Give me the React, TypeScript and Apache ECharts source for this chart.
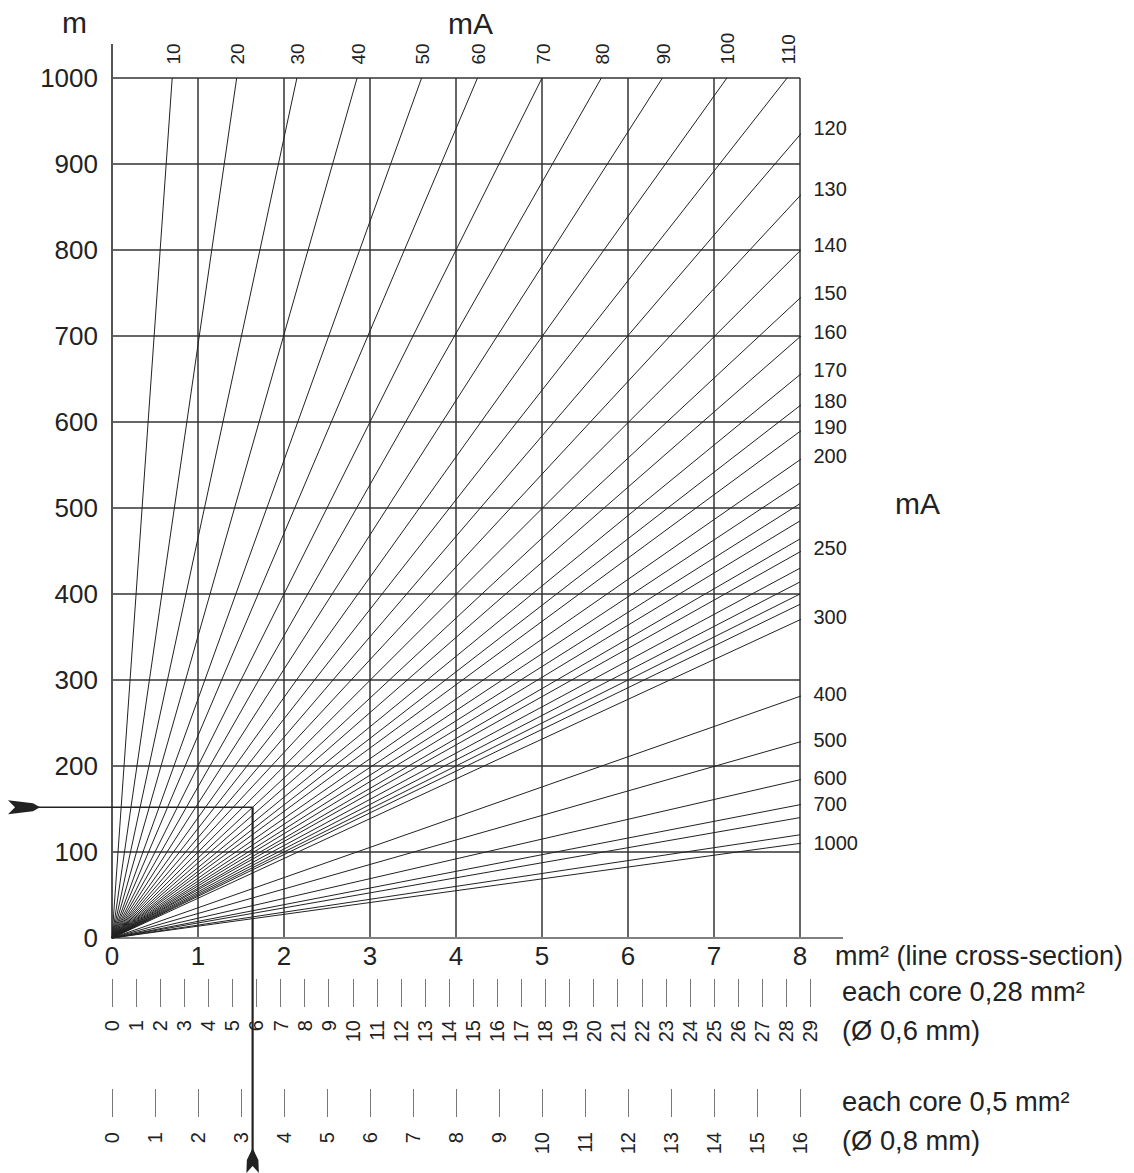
import React, { useEffect, useRef } from "react";
import * as echarts from "echarts";

// ---- data ----
// lines that end on the top edge (1000 m): current (mA) and cross-section (mm²) at 1000 m
const topCurrents = [10, 20, 30, 40, 50, 60, 70, 80, 90, 100, 110];
const topEndSection = [0.7, 1.45, 2.15, 2.85, 3.6, 4.25, 5.0, 5.69, 6.4, 7.15, 7.85];
// lines that end on the right edge (8 mm²): current (mA) and length (m) at 8 mm²
const sideCurrents = [120, 130, 140, 150, 160, 170, 180, 190, 200, 210, 220, 230, 240, 250, 260, 270, 280, 290, 300, 400, 500, 600, 700, 800, 900, 1000];
const sideEndLength = [934, 863, 799, 744, 699, 655, 619, 589, 556, 529, 505, 485, 464, 449, 430, 414, 400, 388, 370, 281, 228, 184, 155, 140, 120, 110];
const labeledSide = [120, 130, 140, 150, 160, 170, 180, 190, 200, 250, 300, 400, 500, 600, 700, 1000];
// axis ticks
const sectionTicks = [0, 1, 2, 3, 4, 5, 6, 7, 8];
const lengthTicks = [0, 100, 200, 300, 400, 500, 600, 700, 800, 900, 1000];
const cores028Ticks = Array.from({ length: 30 }, (_, i) => i); // 0..29
const cores05Ticks = Array.from({ length: 17 }, (_, i) => i); // 0..16
const core028Area = 0.28;
const core05Area = 0.5;
// worked example (arrows)
const exampleLength = 152;
const exampleSection = 1.635;

// ---- layout ----
const W = 1134;
const H = 1173;
const GL = 112;
const GT = 78;
const GW = 688;
const GH = 860;
const FONT = '"Liberation Sans", Arial, Helvetica, sans-serif';
const INK = "#222";

export default function App() {
  const ref = useRef<HTMLDivElement>(null);

  useEffect(() => {
    if (!ref.current) return;
    const chart = echarts.init(ref.current, null, { renderer: "svg" });
    const xMax = sectionTicks[sectionTicks.length - 1];
    const yMax = lengthTicks[lengthTicks.length - 1];
    const pxPerSection = GW / xMax;
    const c028Max = cores028Ticks[cores028Ticks.length - 1];
    const c05Max = cores05Ticks[cores05Ticks.length - 1];

    const lineStyle = { color: "#222", width: 1 };
    const series: any[] = [];

    topCurrents.forEach((c, i) => {
      series.push({
        type: "line",
        name: String(c),
        data: [
          [0, 0],
          [topEndSection[i], yMax],
        ],
        symbol: "none",
        silent: true,
        clip: false,
        lineStyle,
        z: 3,
      });
    });

    const sideLabelPts: any[] = [];
    const ext = (xMax + 6 / pxPerSection) / xMax; // small leader past the edge
    sideCurrents.forEach((c, i) => {
      const L = sideEndLength[i];
      const data: number[][] = [
        [0, 0],
        [xMax, L],
      ];
      if (labeledSide.includes(c)) {
        data.push([xMax * ext, L * ext]);
        sideLabelPts.push([xMax * ext, L * ext, c]);
      }
      series.push({
        type: "line",
        name: String(c),
        data,
        symbol: "none",
        silent: true,
        clip: false,
        lineStyle,
        z: 3,
      });
    });

    const hidden = { color: "rgba(0,0,0,0)", opacity: 1 };
    // top labels
    series.push({
      type: "scatter",
      data: topCurrents.map((c, i) => [topEndSection[i] + 0.012, yMax, c]),
      symbolSize: 1,
      itemStyle: hidden,
      clip: false,
      silent: true,
      label: {
        show: true,
        position: "top",
        distance: 13,
        rotate: 90,
        align: "left",
        verticalAlign: "middle",
        formatter: (p: any) => String(p.value[2]),
        fontSize: 19,
        fontFamily: FONT,
        color: INK,
        opacity: 1,
      },
    });
    // right labels
    series.push({
      type: "scatter",
      data: sideLabelPts,
      symbolSize: 1,
      itemStyle: hidden,
      clip: false,
      silent: true,
      label: {
        show: true,
        position: "right",
        distance: 7,
        align: "left",
        verticalAlign: "middle",
        formatter: (p: any) => String(p.value[2]),
        fontSize: 20,
        fontFamily: FONT,
        color: INK,
        opacity: 1,
      },
    });

    chart.setOption({
      animation: false,
      backgroundColor: "#fff",
      grid: [
        { left: GL, top: GT, width: GW, height: GH },
        { left: GL, top: 979, width: c028Max * core028Area * pxPerSection, height: 28 },
        { left: GL, top: 1089, width: c05Max * core05Area * pxPerSection, height: 28 },
      ],
      xAxis: [
        {
          gridIndex: 0,
          type: "value",
          min: sectionTicks[0],
          max: xMax,
          interval: 1,
          axisLine: { show: true, lineStyle: { color: "#808080", width: 2 } },
          axisTick: { show: false },
          axisLabel: { fontSize: 26, fontFamily: FONT, color: INK, margin: 5 },
          splitLine: { show: true, lineStyle: { color: "#333", width: 1.5 } },
        },
        {
          gridIndex: 1,
          type: "value",
          min: cores028Ticks[0],
          max: c028Max,
          interval: 1,
          axisLine: { show: false },
          axisTick: { show: true, inside: true, length: 28, lineStyle: { color: "#777", width: 1 } },
          axisLabel: { rotate: 90, fontSize: 20, fontFamily: FONT, color: INK, margin: 13 },
          splitLine: { show: false },
        },
        {
          gridIndex: 2,
          type: "value",
          min: cores05Ticks[0],
          max: c05Max,
          interval: 1,
          axisLine: { show: false },
          axisTick: { show: true, inside: true, length: 28, lineStyle: { color: "#777", width: 1 } },
          axisLabel: { rotate: 90, fontSize: 20, fontFamily: FONT, color: INK, margin: 15 },
          splitLine: { show: false },
        },
      ],
      yAxis: [
        {
          gridIndex: 0,
          type: "value",
          min: lengthTicks[0],
          max: yMax,
          interval: 100,
          axisLine: { show: true, lineStyle: { color: "#555", width: 2 } },
          axisTick: { show: false },
          axisLabel: { fontSize: 26, fontFamily: FONT, color: INK, margin: 14, formatter: (v: number) => String(v) },
          splitLine: { show: true, lineStyle: { color: "#333", width: 1.5 } },
        },
        { gridIndex: 1, type: "value", show: false, min: 0, max: 1 },
        { gridIndex: 2, type: "value", show: false, min: 0, max: 1 },
      ],
      series,
    });

    // worked-example arrows, positioned through the chart's own scales
    const corner = chart.convertToPixel({ gridIndex: 0 }, [exampleSection, exampleLength]) as number[];
    const cx = corner[0];
    const cy = corner[1];
    const leftC = [24, cy];
    const botC = [cx, 1160.5];
    const leftArrow = [[-16, -7], [9, -4], [16, 0], [9, 4], [-16, 7], [-9, 0]].map((p) => [leftC[0] + p[0], leftC[1] + p[1]]);
    const botArrow = [[0, -12.5], [5.75, -0.5], [6.25, 12.5], [0, 5.5], [-6.25, 12.5], [-5.75, -0.5]].map((p) => [botC[0] + p[0], botC[1] + p[1]]);

    const txt = (text: string, x: number, y: number, size: number) => ({
      type: "text",
      silent: true,
      style: {
        text,
        x,
        y,
        font: `${size}px ${FONT}`,
        fill: INK,
        textAlign: "left",
        textVerticalAlign: "middle",
        align: "left",
        verticalAlign: "middle",
      },
    });

    chart.setOption({
      graphic: [
        { type: "line", silent: true, shape: { x1: GL, y1: 44, x2: GL, y2: GT }, style: { stroke: "#555", lineWidth: 2 } },
        { type: "line", silent: true, shape: { x1: GL + GW, y1: GT + GH, x2: 843, y2: GT + GH }, style: { stroke: "#808080", lineWidth: 2 } },
        { type: "line", silent: true, z: 10, shape: { x1: leftC[0], y1: cy, x2: cx, y2: cy }, style: { stroke: "#222", lineWidth: 1.6 } },
        { type: "line", silent: true, z: 10, shape: { x1: cx, y1: cy, x2: cx, y2: botC[1] }, style: { stroke: "#222", lineWidth: 2.2 } },
        { type: "polygon", silent: true, z: 11, shape: { points: leftArrow }, style: { fill: "#222" } },
        { type: "polygon", silent: true, z: 11, shape: { points: botArrow }, style: { fill: "#222" } },
        txt("m", 62, 22, 30),
        txt("mA", 448, 23, 30),
        txt("mA", 895, 503, 30),
        txt("mm² (line cross-section)", 835, 956, 27),
        txt("each core 0,28 mm²", 842, 991, 27.3),
        txt("(Ø 0,6 mm)", 842, 1030, 27.3),
        txt("each core 0,5 mm²", 842, 1101, 27.3),
        txt("(Ø 0,8 mm)", 842, 1140, 27.3),
      ],
    });

    return () => chart.dispose();
  }, []);

  return (
    <div
      ref={ref}
      style={{ position: "absolute", left: 0, top: 0, width: W, height: H, background: "#fff" }}
    />
  );
}
